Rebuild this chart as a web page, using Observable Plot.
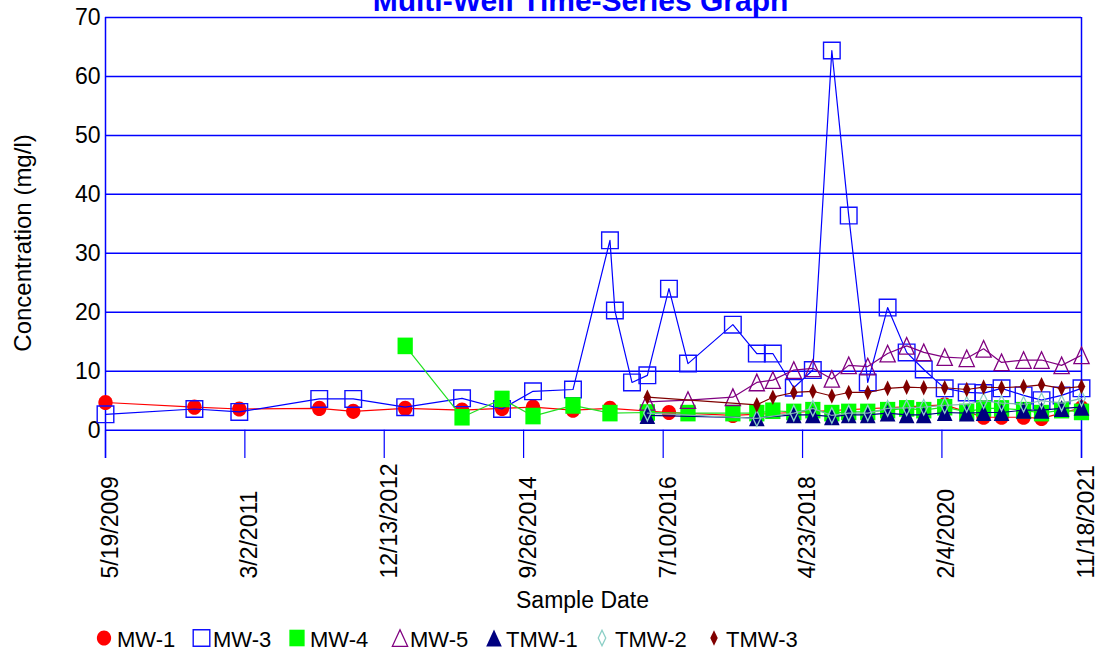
<!DOCTYPE html>
<html>
<head>
<meta charset="utf-8">
<script src="https://cdn.jsdelivr.net/npm/d3@7"></script>
<script src="https://cdn.jsdelivr.net/npm/@observablehq/plot@0.6"></script>
<style>
  html, body { margin: 0; padding: 0; background: #fff; overflow: hidden; }
  body { font-family: "Liberation Sans", Arial, sans-serif; }
  #chart svg, #legend svg { display: block; }
</style>
</head>
<body>
<div id="chart"></div>
<div id="legend"></div>
<script>
// Sampling events (ISO dates) shared by all wells
const sampleDates = [
  "2009-05-19", "2010-07-09", "2011-02-04", "2012-02-13", "2012-07-21",
  "2013-03-21", "2013-12-12", "2014-06-17", "2014-11-09", "2015-05-15",
  "2015-11-04", "2015-11-27", "2016-02-15", "2016-04-27", "2016-08-06",
  "2016-11-03", "2017-06-01", "2017-09-21", "2017-12-05", "2018-03-13",
  "2018-06-10", "2018-09-07", "2018-11-25", "2019-02-22", "2019-05-26",
  "2019-08-23", "2019-11-11", "2020-02-17", "2020-05-30", "2020-08-17",
  "2020-11-09", "2021-02-20", "2021-05-15", "2021-08-17", "2021-11-18"
];

// Concentration (mg/l) per well, aligned with sampleDates (null = not sampled)
const mw1 = [4.7, 3.9, 3.6, 3.7, 3.2, 3.7, 3.4, 3.7, 3.9, 3.4,
  3.7, null, null, null, 3.0, null, 2.5, null, null, null,
  null, null, null, null, null, null, null, 4.3, null, 2.2,
  2.2, 2.2, 2.0, null, 3.8];
const mw3 = [2.7, 3.6, 3.1, 5.3, 5.3, 3.9, 5.4, 3.6, 6.6, 6.9,
  32.2, 20.3, 8.1, 9.3, 24.0, 11.3, 17.9, 13.0, 13.0, 7.2,
  10.2, 64.4, 36.4, 8.1, 20.8, 13.2, 10.3, 7.1, 6.4, 6.3,
  7.1, 5.9, 5.1, 5.9, 7.1];
const mw4 = [null, null, null, null, null, 14.3, 2.2, 5.3, 2.4, 4.2,
  2.9, null, null, 3.0, null, 2.9, 2.9, 2.9, 3.3, 3.1,
  3.4, 2.9, 3.1, 3.1, 3.4, 3.7, 3.4, 3.9, 3.1, 3.7,
  3.7, 3.4, 2.9, 3.4, 3.1];
const mw5 = [null, null, null, null, null, null, null, null, null, null,
  null, null, null, 4.8, null, 5.1, 5.6, 8.1, 8.5, 10.2,
  10.5, 8.7, 11.0, 10.8, 13.0, 14.3, 13.2, 12.4, 12.2, 13.8,
  11.5, 11.9, 11.9, 11.0, 12.7];
const tmw1 = [null, null, null, null, null, null, null, null, null, null,
  null, null, null, 2.5, null, null, null, 2.1, null, 2.6,
  2.6, 2.3, 2.6, 2.6, 2.9, 2.6, 2.6, 3.0, 2.9, 3.0,
  3.0, 3.4, 3.4, 3.7, 3.9];
const tmw2 = [null, null, null, null, null, null, null, null, null, null,
  null, null, null, 2.9, null, null, null, 2.0, null, 2.9,
  3.7, 2.5, 2.9, 2.9, 3.7, 3.8, 3.9, 4.2, 4.4, 5.0,
  4.6, 4.4, 5.0, 4.6, 5.4];
const tmw3 = [null, null, null, null, null, null, null, null, null, null,
  null, null, null, 5.6, null, null, null, 4.3, 5.6, 6.4,
  6.6, 5.8, 6.4, 6.4, 7.1, 7.3, 7.2, 7.2, 6.9, 7.3,
  7.2, 7.4, 7.7, 7.1, 7.4];

const wells = ["MW-1", "MW-3", "MW-4", "MW-5", "TMW-1", "TMW-2", "TMW-3"];
const seriesValues = [mw1, mw3, mw4, mw5, tmw1, tmw2, tmw3];

// Axis ticks
const tickLabels = ["5/19/2009", "3/2/2011", "12/13/2012", "9/26/2014",
  "7/10/2016", "4/23/2018", "2/4/2020", "11/18/2021"];
const yTicks = [0, 10, 20, 30, 40, 50, 60, 70];

const chartTitle = "Multi-Well Time-Series Graph";
const xTitle = "Sample Date";
const yTitle = "Concentration (mg/l)";

// ---- build the long table ----
const parseISO = d3.utcParse("%Y-%m-%d");
const parseTick = d3.utcParse("%m/%d/%Y");
const rows = wells.flatMap((well, k) =>
  seriesValues[k]
    .map((v, i) => ({well, date: parseISO(sampleDates[i]), value: v}))
    .filter((d) => d.value != null)
);
const tickDates = tickLabels.map(parseTick);
const xDomain = [tickDates[0], tickDates[tickDates.length - 1]];
const yDomain = [-4.8, 70];

// ---- marker shapes ----
const box = (w) => ({
  draw(ctx, size) {
    const r = Math.sqrt(size / Math.PI);
    ctx.rect(-r * w, -r, 2 * r * w, 2 * r);
  }
});
const tri = {
  draw(ctx, size) {
    const r = Math.sqrt(size / Math.PI);
    ctx.moveTo(0, -r);
    ctx.lineTo(0.92 * r, r);
    ctx.lineTo(-0.92 * r, r);
    ctx.closePath();
  }
};
const slimDiamond = {
  draw(ctx, size) {
    const r = Math.sqrt(size / Math.PI);
    ctx.moveTo(0, -r);
    ctx.lineTo(0.48 * r, 0);
    ctx.lineTo(0, r);
    ctx.lineTo(-0.48 * r, 0);
    ctx.closePath();
  }
};
// slightly tall circle
const ellipse = {
  draw(ctx, size) {
    const r = Math.sqrt(size / Math.PI);
    const k = 0.5522847498;
    const rx = r * 0.94, ry = r;
    ctx.moveTo(rx, 0);
    ctx.bezierCurveTo(rx, ry * k, rx * k, ry, 0, ry);
    ctx.bezierCurveTo(-rx * k, ry, -rx, ry * k, -rx, 0);
    ctx.bezierCurveTo(-rx, -ry * k, -rx * k, -ry, 0, -ry);
    ctx.bezierCurveTo(rx * k, -ry, rx, -ry * k, rx, 0);
    ctx.closePath();
  }
};

const look = {
  "MW-1":  {line: "#ff0000", symbol: ellipse,     r: 7.6, fill: "#ff0000", stroke: "none"},
  "MW-3":  {line: "#0000ff", symbol: box(1),      r: 8.3, fill: "none",    stroke: "#1010ff", sw: 1.4},
  "MW-4":  {line: "#22e022", symbol: box(0.92),   r: 8.3, fill: "#00ff00", stroke: "none"},
  "MW-5":  {line: "#800080", symbol: tri,         r: 8.3, fill: "none",    stroke: "#800080", sw: 1.3},
  "TMW-1": {line: "#000080", symbol: tri,         r: 8.5, fill: "#000080", stroke: "none"},
  "TMW-2": {line: "#7fb0ae", symbol: slimDiamond, r: 7.8, fill: "none",    stroke: "#8ccfc6", sw: 1.3},
  "TMW-3": {line: "#800000", symbol: slimDiamond, r: 7.8, fill: "#800000", stroke: "none"}
};

const seriesMarks = wells.flatMap((well) => {
  const s = look[well];
  const data = rows.filter((d) => d.well === well);
  return [
    Plot.line(data, {x: "date", y: "value", stroke: s.line, strokeWidth: 1.2}),
    Plot.dot(data, {x: "date", y: "value", symbol: () => s.symbol, r: s.r,
      fill: s.fill, stroke: s.stroke, strokeWidth: s.sw || 1})
  ];
});

const font = '"Liberation Sans", Arial, sans-serif';

const chart = Plot.plot({
  width: 1101,
  height: 620,
  marginTop: 17,
  marginLeft: 105,
  marginRight: 20,
  marginBottom: 162,
  style: {fontFamily: font, background: "#fff", color: "#000"},
  x: {type: "utc", domain: xDomain, axis: null},
  y: {domain: yDomain},
  symbol: {type: "identity"},
  marks: [
    // horizontal grid
    Plot.ruleY(yTicks, {stroke: "#0000ff", strokeWidth: 1.5}),
    // frame sides
    Plot.ruleX(xDomain, {stroke: "#0000ff", strokeWidth: 1.5}),
    // date ticks hanging below the zero line
    Plot.ruleX(tickDates, {y1: yDomain[0], y2: 0, stroke: "#0000ff", strokeWidth: 1.2}),
    Plot.axisY({ticks: yTicks, tickSize: 0, tickPadding: 5, fontSize: 23, label: null}),
    Plot.text(tickLabels, {x: (d) => parseTick(d), text: (d) => d, frameAnchor: "bottom",
      rotate: -90, textAnchor: "start", lineAnchor: "middle", dx: 5, dy: 120, fontSize: 23, fill: "#000"}),
    Plot.text([xTitle], {text: (d) => d, frameAnchor: "bottom", textAnchor: "middle", lineAnchor: "middle",
      dx: -11, dy: 142, fontSize: 23, fill: "#000"}),
    Plot.text([yTitle], {text: (d) => d, frameAnchor: "left", rotate: -90, textAnchor: "middle",
      lineAnchor: "middle", dx: -82, dy: 5, fontSize: 24, fill: "#000"}),
    Plot.text([chartTitle], {text: (d) => d, frameAnchor: "top", textAnchor: "middle", lineAnchor: "middle",
      dx: -13, dy: -16, fontSize: 30, fontWeight: "bold", fill: "#0000ff"}),
    ...seriesMarks
  ]
});
document.getElementById("chart").appendChild(chart);

// ---- legend row ----
const legendPos = [
  {sx: 104, tx: 117}, {sx: 201.5, tx: 213}, {sx: 297, tx: 310}, {sx: 400, tx: 410},
  {sx: 494, tx: 506}, {sx: 602, tx: 615}, {sx: 714, tx: 726}
];
const legend = d3.create("svg")
  .attr("width", 1101).attr("height", 34)
  .style("font-family", font);
wells.forEach((well, i) => {
  const s = look[well];
  legend.append("path")
    .attr("transform", `translate(${legendPos[i].sx},18)`)
    .attr("d", d3.symbol(s.symbol, s.r * s.r * Math.PI)())
    .attr("fill", s.fill)
    .attr("stroke", s.stroke)
    .attr("stroke-width", s.sw || 1);
  legend.append("text")
    .attr("x", legendPos[i].tx).attr("y", 27)
    .attr("font-size", 22)
    .attr("fill", "#000")
    .text(well);
});
document.getElementById("legend").appendChild(legend.node());
</script>
</body>
</html>
